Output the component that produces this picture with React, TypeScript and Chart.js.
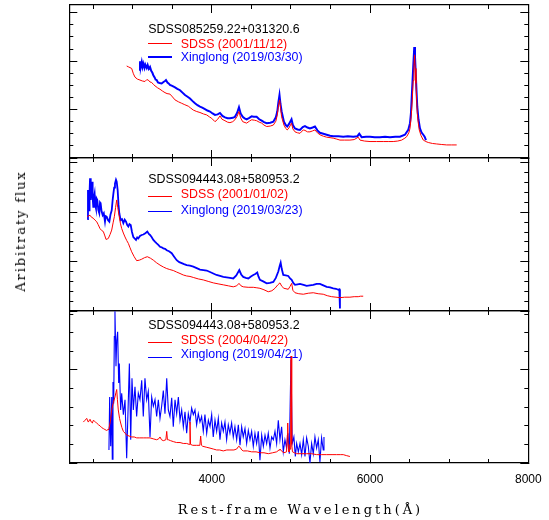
import React, { useEffect, useRef } from "react";
import { Chart, registerables } from "chart.js";

Chart.register(...registerables);

type Pt = [number, number];

// ---------------- data ----------------
const waveMin = 2200;
const waveMax = 8000;
const waveMajorTicks = [4000, 6000, 8000];
const waveMinorTicks = [2500, 3000, 3500, 4000, 4500, 5000, 5500, 6000, 6500, 7000, 7500, 8000];

const xTitle = "Rest-frame Wavelength(Å)";
const yTitle = "Aribitraty flux";

// Panel 1
const p1Name = "SDSS085259.22+031320.6";
const p1SdssLabel = "SDSS (2001/11/12)";
const p1XlLabel = "Xinglong (2019/03/30)";
const p1FluxMax = 3.16;
const p1FluxMinorStep = 0.25;
const p1Sdss: Pt[] = [
  [2925, 1.9], [2950, 1.88], [2988, 1.85], [3010, 1.74], [3030, 1.67], [3060, 1.63], [3093, 1.61], [3125, 1.59],
  [3156, 1.58], [3180, 1.62], [3198, 1.61], [3220, 1.57], [3241, 1.56], [3262, 1.52], [3283, 1.49], [3315, 1.45],
  [3346, 1.42], [3380, 1.38], [3409, 1.35], [3435, 1.33], [3472, 1.32], [3505, 1.26], [3536, 1.2], [3580, 1.16],
  [3620, 1.13], [3660, 1.1], [3704, 1.07], [3735, 1.03], [3767, 0.99], [3810, 0.96], [3851, 0.94], [3895, 0.91],
  [3936, 0.89], [3970, 0.85], [3999, 0.82], [4041, 0.75], [4075, 0.8], [4104, 0.87], [4130, 0.8], [4167, 0.77],
  [4200, 0.74], [4230, 0.73], [4265, 0.75], [4293, 0.79], [4320, 0.86], [4344, 0.96], [4365, 0.83], [4391, 0.75],
  [4441, 0.72], [4475, 0.76], [4504, 0.79], [4540, 0.78], [4567, 0.77], [4600, 0.74], [4631, 0.72], [4660, 0.68],
  [4694, 0.65], [4740, 0.66], [4778, 0.68], [4810, 0.76], [4828, 0.89], [4845, 1.1], [4858, 1.2], [4870, 1.02],
  [4883, 0.85], [4912, 0.68], [4935, 0.61], [4954, 0.58], [4975, 0.62], [4995, 0.68], [5008, 0.72], [5025, 0.6],
  [5052, 0.54], [5085, 0.52], [5115, 0.51], [5157, 0.58], [5178, 0.57], [5210, 0.54], [5241, 0.54], [5275, 0.56],
  [5304, 0.58], [5335, 0.52], [5367, 0.48], [5410, 0.45], [5452, 0.43], [5495, 0.42], [5535, 0.41], [5580, 0.39],
  [5620, 0.37], [5680, 0.37], [5746, 0.37], [5800, 0.38], [5851, 0.43], [5873, 0.37], [5930, 0.35], [6000, 0.34],
  [6080, 0.34], [6167, 0.34], [6230, 0.34], [6293, 0.34], [6350, 0.35], [6400, 0.37], [6440, 0.41], [6463, 0.44],
  [6490, 0.52], [6505, 0.61], [6520, 0.85], [6534, 1.2], [6545, 1.6], [6555, 1.89], [6563, 2.13], [6572, 1.85],
  [6580, 1.54], [6590, 1.18], [6597, 0.92], [6610, 0.72], [6622, 0.58], [6645, 0.46], [6673, 0.37], [6705, 0.34],
  [6736, 0.32], [6790, 0.3], [6842, 0.29], [6900, 0.28], [6968, 0.27], [7030, 0.27], [7095, 0.27],
];
const p1Xl: Pt[] = [
  [3093, 1.8], [3094, 2.0], [3105, 1.9], [3115, 1.98], [3125, 1.88], [3135, 1.95], [3150, 1.86], [3160, 1.93],
  [3178, 1.86], [3190, 1.92], [3205, 1.84], [3220, 1.88], [3235, 1.8], [3250, 1.76], [3262, 1.71], [3280, 1.66],
  [3290, 1.62], [3304, 1.61], [3320, 1.56], [3340, 1.55], [3367, 1.54], [3390, 1.57], [3410, 1.59], [3422, 1.61],
  [3440, 1.56], [3455, 1.54], [3472, 1.51], [3500, 1.49], [3536, 1.46], [3565, 1.43], [3599, 1.4], [3630, 1.35],
  [3662, 1.3], [3690, 1.27], [3725, 1.23], [3755, 1.18], [3788, 1.13], [3820, 1.09], [3851, 1.06], [3880, 1.04],
  [3914, 1.01], [3945, 0.98], [3978, 0.96], [4010, 0.92], [4041, 0.89], [4075, 0.9], [4104, 0.93], [4135, 0.87],
  [4167, 0.84], [4200, 0.82], [4230, 0.82], [4265, 0.83], [4293, 0.85], [4320, 0.93], [4344, 1.05], [4365, 0.92],
  [4391, 0.85], [4415, 0.82], [4441, 0.8], [4475, 0.83], [4504, 0.86], [4530, 0.85], [4567, 0.85], [4600, 0.8],
  [4631, 0.77], [4660, 0.74], [4694, 0.72], [4740, 0.73], [4778, 0.75], [4810, 0.84], [4828, 0.96], [4842, 1.15],
  [4856, 1.3], [4868, 1.12], [4883, 0.96], [4912, 0.75], [4935, 0.68], [4954, 0.65], [4975, 0.7], [4995, 0.76],
  [5008, 0.8], [5025, 0.68], [5052, 0.61], [5085, 0.59], [5115, 0.58], [5150, 0.64], [5178, 0.66], [5210, 0.63],
  [5241, 0.61], [5275, 0.63], [5304, 0.65], [5335, 0.57], [5367, 0.52], [5410, 0.5], [5452, 0.48], [5495, 0.46],
  [5535, 0.45], [5600, 0.45], [5662, 0.44], [5720, 0.45], [5788, 0.44], [5840, 0.45], [5864, 0.5], [5894, 0.43],
  [5950, 0.44], [6000, 0.44], [6060, 0.43], [6125, 0.43], [6190, 0.44], [6252, 0.43], [6320, 0.44], [6378, 0.44],
  [6441, 0.48], [6483, 0.58], [6505, 0.72], [6517, 0.92], [6530, 1.35], [6546, 1.89], [6559, 2.29], [6568, 2.1],
  [6576, 1.82], [6587, 1.4], [6597, 1.06], [6612, 0.8], [6631, 0.61], [6650, 0.53], [6673, 0.48], [6690, 0.44],
  [6707, 0.37],
];

// Panel 2
const p2Name = "SDSS094443.08+580953.2";
const p2SdssLabel = "SDSS (2001/01/02)";
const p2XlLabel = "Xinglong (2019/03/23)";
const p2FluxMax = 3.1;
const p2FluxMinorStep = 0.2;
const p2Sdss: Pt[] = [
  [2427, 1.91], [2445, 1.93], [2462, 1.94], [2480, 1.9], [2503, 1.88], [2525, 1.84], [2546, 1.81], [2565, 1.75],
  [2588, 1.67], [2610, 1.63], [2630, 1.61], [2650, 1.52], [2664, 1.45], [2680, 1.46], [2693, 1.47], [2715, 1.55],
  [2736, 1.64], [2755, 1.8], [2769, 1.91], [2785, 2.1], [2799, 2.25], [2812, 2.1], [2828, 1.94], [2845, 1.78],
  [2862, 1.67], [2883, 1.58], [2904, 1.5], [2925, 1.43], [2946, 1.37], [2968, 1.28], [2988, 1.2], [3020, 1.1],
  [3051, 1.02], [3085, 1.03], [3115, 1.05], [3150, 1.08], [3186, 1.1], [3225, 1.07], [3262, 1.03], [3300, 0.98],
  [3346, 0.93], [3390, 0.89], [3431, 0.86], [3470, 0.84], [3514, 0.82], [3555, 0.79], [3599, 0.76], [3640, 0.73],
  [3683, 0.71], [3725, 0.7], [3767, 0.68], [3830, 0.65], [3893, 0.63], [3955, 0.6], [4019, 0.57], [4080, 0.55],
  [4146, 0.53], [4210, 0.51], [4272, 0.49], [4315, 0.51], [4344, 0.56], [4370, 0.51], [4398, 0.49], [4460, 0.48],
  [4525, 0.48], [4570, 0.47], [4609, 0.46], [4660, 0.43], [4714, 0.39], [4760, 0.41], [4799, 0.46], [4835, 0.53],
  [4862, 0.57], [4885, 0.5], [4912, 0.46], [4967, 0.44], [4990, 0.5], [5010, 0.56], [5025, 0.42], [5052, 0.37],
  [5100, 0.35], [5157, 0.34], [5220, 0.36], [5283, 0.37], [5345, 0.35], [5409, 0.34], [5460, 0.31], [5515, 0.29],
  [5570, 0.28], [5620, 0.27], [5680, 0.28], [5746, 0.28], [5800, 0.29], [5851, 0.29], [5880, 0.3], [5914, 0.3],
];
const p2Xl: Pt[] = [
  [2427, 1.86], [2436, 2.45], [2443, 2.1], [2449, 2.04], [2456, 2.4], [2462, 2.69], [2468, 2.3], [2474, 2.25],
  [2480, 2.55], [2487, 2.62], [2495, 2.3], [2503, 2.11], [2511, 2.3], [2520, 2.38], [2528, 2.15], [2537, 2.08],
  [2545, 2.28], [2554, 2.25], [2566, 2.05], [2579, 1.98], [2588, 2.2], [2596, 2.18], [2608, 2.02], [2622, 1.94],
  [2636, 1.98], [2651, 1.81], [2660, 1.92], [2672, 1.91], [2690, 1.84], [2706, 1.81], [2720, 1.95], [2736, 2.04],
  [2748, 2.25], [2757, 2.38], [2767, 2.5], [2777, 2.58], [2790, 2.66], [2799, 2.62], [2811, 2.45], [2822, 2.15],
  [2832, 1.98], [2849, 1.84], [2866, 1.86], [2883, 1.78], [2900, 1.85], [2917, 1.81], [2932, 1.74], [2946, 1.71],
  [2960, 1.76], [2976, 1.74], [2992, 1.6], [3009, 1.5], [3025, 1.47], [3043, 1.44], [3058, 1.49], [3072, 1.47],
  [3093, 1.52], [3115, 1.54], [3135, 1.55], [3156, 1.57], [3172, 1.59], [3186, 1.61], [3205, 1.56], [3220, 1.54],
  [3240, 1.5], [3262, 1.44], [3285, 1.4], [3304, 1.37], [3325, 1.34], [3346, 1.3], [3367, 1.29], [3388, 1.27],
  [3410, 1.26], [3431, 1.23], [3460, 1.21], [3494, 1.17], [3525, 1.1], [3557, 1.03], [3590, 0.99], [3620, 0.97],
  [3650, 0.95], [3683, 0.93], [3725, 0.92], [3767, 0.9], [3810, 0.87], [3851, 0.84], [3895, 0.83], [3936, 0.82],
  [3978, 0.79], [4019, 0.76], [4060, 0.73], [4104, 0.71], [4146, 0.69], [4188, 0.68], [4230, 0.67], [4272, 0.66],
  [4310, 0.72], [4348, 0.83], [4372, 0.74], [4398, 0.69], [4430, 0.67], [4462, 0.66], [4495, 0.7], [4525, 0.73],
  [4550, 0.75], [4575, 0.78], [4590, 0.7], [4609, 0.63], [4650, 0.6], [4694, 0.56], [4735, 0.57], [4778, 0.59],
  [4810, 0.67], [4841, 0.8], [4860, 0.92], [4871, 0.98], [4885, 0.85], [4904, 0.73], [4935, 0.72], [4967, 0.71],
  [4990, 0.66], [5010, 0.63], [5030, 0.57], [5052, 0.53], [5085, 0.54], [5115, 0.55], [5160, 0.53], [5199, 0.51],
  [5240, 0.52], [5283, 0.53], [5325, 0.55], [5367, 0.55], [5410, 0.52], [5452, 0.49], [5495, 0.48], [5535, 0.46],
  [5570, 0.45], [5599, 0.43], [5612, 0.44], [5620, 0.05],
];

// Panel 3
const p3Name = "SDSS094443.08+580953.2";
const p3SdssLabel = "SDSS (2004/04/22)";
const p3XlLabel = "Xinglong (2019/04/21)";
const p3FluxMax = 1.634;
const p3FluxMinorStep = 0.2;
const p3Sdss: Pt[] = [
  [2377, 0.44], [2400, 0.46], [2420, 0.48], [2440, 0.44], [2462, 0.47], [2478, 0.44], [2491, 0.43], [2505, 0.46],
  [2516, 0.45], [2530, 0.44], [2546, 0.43], [2570, 0.41], [2588, 0.4], [2610, 0.38], [2630, 0.37], [2650, 0.36],
  [2672, 0.35], [2690, 0.36], [2701, 0.37], [2720, 0.45], [2736, 0.57], [2757, 0.65], [2777, 0.71], [2790, 0.76],
  [2799, 0.79], [2808, 0.68], [2819, 0.57], [2835, 0.48], [2849, 0.43], [2865, 0.38], [2883, 0.34], [2905, 0.32],
  [2925, 0.3], [2955, 0.29], [2988, 0.28], [3020, 0.28], [3051, 0.27], [3090, 0.27], [3135, 0.27], [3180, 0.27],
  [3220, 0.27], [3260, 0.26], [3304, 0.25], [3330, 0.26], [3346, 0.28], [3365, 0.25], [3388, 0.24], [3420, 0.25],
  [3431, 0.34], [3440, 0.25], [3451, 0.25], [3480, 0.24], [3514, 0.23], [3555, 0.22], [3599, 0.22], [3640, 0.21],
  [3683, 0.21], [3715, 0.2], [3725, 0.44], [3732, 0.2], [3760, 0.19], [3809, 0.19], [3850, 0.19], [3860, 0.29],
  [3870, 0.19], [3885, 0.18], [3930, 0.17], [3978, 0.16], [4020, 0.15], [4062, 0.14], [4100, 0.14], [4146, 0.13],
  [4190, 0.14], [4230, 0.14], [4280, 0.14], [4315, 0.15], [4340, 0.18], [4357, 0.17], [4380, 0.14], [4398, 0.13],
  [4450, 0.13], [4504, 0.12], [4560, 0.12], [4609, 0.11], [4660, 0.11], [4714, 0.1], [4770, 0.11], [4820, 0.12],
  [4850, 0.14], [4862, 0.15], [4880, 0.13], [4912, 0.11], [4945, 0.12], [4955, 0.3], [4960, 0.43], [4966, 0.2],
  [4975, 0.12], [4990, 0.15], [4997, 0.6], [5002, 1.15], [5008, 0.6], [5013, 0.2], [5020, 0.12], [5045, 0.11],
  [5073, 0.1], [5130, 0.1], [5199, 0.1], [5260, 0.1], [5325, 0.09], [5390, 0.09], [5452, 0.09], [5520, 0.09],
  [5578, 0.09], [5630, 0.09], [5662, 0.09], [5700, 0.08], [5746, 0.07],
];
const p3Xl: Pt[] = [
  [2701, 0.14], [2710, 0.71], [2723, 0.18], [2736, 0.71], [2743, 0.04], [2752, 0.87], [2761, 0.64], [2769, 1.36],
  [2777, 1.63], [2790, 1.04], [2799, 1.32], [2811, 1.41], [2824, 0.86], [2832, 1.07], [2849, 0.57], [2862, 0.75],
  [2883, 0.52], [2904, 0.68], [2925, 0.05], [2946, 0.68], [2959, 1.07], [2976, 0.25], [2992, 0.91], [3009, 0.57],
  [3030, 0.82], [3051, 0.5], [3072, 0.75], [3093, 0.68], [3115, 0.89], [3135, 0.5], [3156, 0.91], [3178, 0.68],
  [3198, 0.77], [3220, 0.28], [3241, 0.71], [3262, 0.61], [3283, 0.68], [3304, 0.5], [3325, 0.68], [3346, 0.48],
  [3367, 0.61], [3388, 0.78], [3409, 0.53], [3431, 0.91], [3451, 0.57], [3472, 0.5], [3494, 0.7], [3514, 0.39],
  [3536, 0.68], [3557, 0.53], [3578, 0.71], [3599, 0.46], [3620, 0.57], [3641, 0.39], [3662, 0.55], [3683, 0.32],
  [3704, 0.53], [3725, 0.44], [3746, 0.59], [3767, 0.52], [3788, 0.57], [3809, 0.41], [3830, 0.53], [3851, 0.44],
  [3872, 0.5], [3893, 0.34], [3914, 0.52], [3936, 0.32], [3957, 0.46], [3978, 0.39], [3999, 0.52], [4019, 0.28],
  [4041, 0.46], [4062, 0.34], [4083, 0.48], [4104, 0.25], [4125, 0.43], [4146, 0.34], [4167, 0.44], [4188, 0.25],
  [4209, 0.41], [4230, 0.32], [4251, 0.43], [4272, 0.28], [4293, 0.39], [4315, 0.25], [4336, 0.41], [4357, 0.19],
  [4378, 0.39], [4398, 0.28], [4420, 0.37], [4441, 0.21], [4462, 0.35], [4483, 0.25], [4504, 0.34], [4525, 0.18],
  [4546, 0.32], [4567, 0.21], [4588, 0.34], [4609, 0.03], [4631, 0.3], [4652, 0.18], [4673, 0.3], [4694, 0.21],
  [4714, 0.32], [4736, 0.16], [4757, 0.28], [4778, 0.25], [4799, 0.34], [4820, 0.21], [4841, 0.46], [4862, 0.25],
  [4883, 0.39], [4904, 0.12], [4925, 0.25], [4946, 0.16], [4962, 0.32], [4980, 0.1], [5001, 1.11], [5017, 0.21],
  [5038, 0.28], [5056, 0.07], [5073, 0.21], [5094, 0.12], [5115, 0.21], [5136, 0.09], [5157, 0.25], [5178, 0.07],
  [5199, 0.27], [5220, 0.18], [5241, 0.0], [5262, 0.21], [5283, 0.1], [5304, 0.28], [5325, 0.16], [5346, 0.25],
  [5367, 0.01], [5388, 0.27], [5409, 0.14], [5418, 0.28],
];

// ---------------- layout ----------------
const W = 549;
const H = 520;
const PLOT_LEFT = 69.3;
const PLOT_RIGHT = 528.3;
const LABEL_AXIS_H = 30;
const SDSS_COLOR = "#ff0000";
const XL_COLOR = "#0000ff";
const SANS = "'Liberation Sans', Arial, Helvetica, sans-serif";
const TITLE_FONT = "'DejaVu Serif', 'Liberation Serif', serif";

interface PanelSpec {
  top: number;
  bottom: number;
  fluxMax: number;
  fluxMinor: number;
  sdss: Pt[];
  xl: Pt[];
  xlWidth: number;
  showLabels: boolean;
  name: string;
  sdssLabel: string;
  xlLabel: string;
  nameY: number;
  sdssY: number;
  sdssLineY: number;
  xlY: number;
  xlLineY: number;
}

const panels: PanelSpec[] = [
  {
    top: 5, bottom: 158, fluxMax: p1FluxMax, fluxMinor: p1FluxMinorStep, sdss: p1Sdss, xl: p1Xl, xlWidth: 2.0,
    showLabels: false, name: p1Name, sdssLabel: p1SdssLabel, xlLabel: p1XlLabel,
    nameY: 29, sdssY: 43.5, sdssLineY: 43.5, xlY: 57, xlLineY: 57,
  },
  {
    top: 158, bottom: 311, fluxMax: p2FluxMax, fluxMinor: p2FluxMinorStep, sdss: p2Sdss, xl: p2Xl, xlWidth: 1.8,
    showLabels: false, name: p2Name, sdssLabel: p2SdssLabel, xlLabel: p2XlLabel,
    nameY: 178.8, sdssY: 193.8, sdssLineY: 196.5, xlY: 209.5, xlLineY: 211.7,
  },
  {
    top: 311, bottom: 463, fluxMax: p3FluxMax, fluxMinor: p3FluxMinorStep, sdss: p3Sdss, xl: p3Xl, xlWidth: 1.1,
    showLabels: true, name: p3Name, sdssLabel: p3SdssLabel, xlLabel: p3XlLabel,
    nameY: 325.3, sdssY: 340, sdssLineY: 342.3, xlY: 354.3, xlLineY: 357.5,
  },
];

function axisOpts(
  axis: "x" | "y",
  position: string,
  min: number,
  max: number,
  step: number,
  tickValues: number[] | null,
  tickLen: number,
  border: boolean,
  labels: boolean
): any {
  return {
    type: "linear",
    axis,
    position,
    min,
    max,
    weight: labels ? 1 : 0,
    afterBuildTicks: (s: any) => {
      if (tickValues) s.ticks = tickValues.map((v) => ({ value: v }));
    },
    afterFit: (s: any) => {
      s.paddingLeft = 0;
      s.paddingRight = 0;
      s.paddingTop = 0;
      s.paddingBottom = 0;
      if (s.isHorizontal()) s.height = labels ? LABEL_AXIS_H : 0;
      else s.width = 0;
    },
    border: { display: border, color: "#000", width: 1.2 },
    grid: {
      display: true,
      drawOnChartArea: false,
      drawTicks: true,
      tickLength: tickLen,
      tickColor: "#000",
      tickWidth: 1,
      color: "#000",
    },
    ticks: {
      display: labels,
      stepSize: step,
      includeBounds: false,
      autoSkip: false,
      maxTicksLimit: 1000,
      maxRotation: 0,
      minRotation: 0,
      padding: 17.8,
      color: "#000",
      font: { family: SANS, size: 12 },
      callback: (v: any) => String(v),
    },
  };
}

function PanelChart({ spec }: { spec: PanelSpec }) {
  const ref = useRef<HTMLCanvasElement>(null);
  useEffect(() => {
    if (!ref.current) return;
    const chart = new Chart(ref.current, {
      type: "line",
      data: {
        datasets: [
          {
            label: spec.sdssLabel,
            data: spec.sdss.map(([x, y]) => ({ x, y })),
            borderColor: SDSS_COLOR,
            backgroundColor: SDSS_COLOR,
            borderWidth: 1,
            pointRadius: 0,
            tension: 0,
            fill: false,
            order: 0,
            xAxisID: "x",
            yAxisID: "y",
          },
          {
            label: spec.xlLabel,
            data: spec.xl.map(([x, y]) => ({ x, y })),
            borderColor: XL_COLOR,
            backgroundColor: XL_COLOR,
            borderWidth: spec.xlWidth,
            pointRadius: 0,
            tension: 0,
            fill: false,
            order: 1,
            xAxisID: "x",
            yAxisID: "y",
          },
        ],
      } as any,
      options: {
        responsive: false,
        animation: false,
        events: [],
        layout: {
          padding: {
            left: PLOT_LEFT,
            right: W - PLOT_RIGHT,
            top: spec.top,
            bottom: H - spec.bottom - (spec.showLabels ? LABEL_AXIS_H : 0),
          },
        },
        plugins: { legend: { display: false }, tooltip: { enabled: false }, title: { display: false } },
        scales: {
          x: axisOpts("x", "bottom", waveMin, waveMax, 2000, waveMajorTicks, -8, true, spec.showLabels),
          xMinor: axisOpts("x", "bottom", waveMin, waveMax, 500, waveMinorTicks, -4, false, false),
          xTop: axisOpts("x", "top", waveMin, waveMax, 2000, waveMajorTicks, -8, true, false),
          xTopMinor: axisOpts("x", "top", waveMin, waveMax, 500, waveMinorTicks, -4, false, false),
          y: axisOpts("y", "left", 0, spec.fluxMax, 1, null, -8, true, false),
          yMinor: axisOpts("y", "left", 0, spec.fluxMax, spec.fluxMinor, null, -4, false, false),
          yRight: axisOpts("y", "right", 0, spec.fluxMax, 1, null, -8, true, false),
          yRightMinor: axisOpts("y", "right", 0, spec.fluxMax, spec.fluxMinor, null, -4, false, false),
        },
      } as any,
    });
    return () => chart.destroy();
  }, [spec]);
  return (
    <canvas
      ref={ref}
      width={W}
      height={H}
      style={{ position: "absolute", left: 0, top: 0, width: W, height: H }}
    />
  );
}

const LEG_X = 148.3;
const LEG_LINE_W = 23.5;
const LEG_TEXT_X = 180.7;
const LEG_FS = 12.4;

function textStyle(x: number, cy: number, color: string): React.CSSProperties {
  return {
    position: "absolute",
    left: x,
    top: cy - 7,
    height: 14,
    lineHeight: "14px",
    fontSize: LEG_FS,
    fontFamily: SANS,
    color,
    whiteSpace: "nowrap",
  };
}

function lineStyle(cy: number, color: string, w: number): React.CSSProperties {
  return {
    position: "absolute",
    left: LEG_X,
    top: cy - w / 2,
    width: LEG_LINE_W,
    height: w,
    background: color,
  };
}

export default function App() {
  return (
    <div
      style={{
        position: "absolute",
        left: 0,
        top: 0,
        width: W,
        height: H,
        background: "#fff",
        overflow: "hidden",
      }}
    >
      {panels.map((p, i) => (
        <PanelChart key={i} spec={p} />
      ))}
      {panels.map((p, i) => (
        <React.Fragment key={"leg" + i}>
          <div style={textStyle(LEG_X, p.nameY, "#000")}>{p.name}</div>
          <div style={lineStyle(p.sdssLineY, SDSS_COLOR, 1.2)} />
          <div style={textStyle(LEG_TEXT_X, p.sdssY, SDSS_COLOR)}>{p.sdssLabel}</div>
          <div style={lineStyle(p.xlLineY, XL_COLOR, i === 0 ? 2 : 1.3)} />
          <div style={textStyle(LEG_TEXT_X, p.xlY, XL_COLOR)}>{p.xlLabel}</div>
        </React.Fragment>
      ))}
      <div
        style={{
          position: "absolute",
          left: 300.5,
          top: 509.5,
          transform: "translate(-50%, -50%)",
          fontFamily: TITLE_FONT,
          fontSize: 13,
          letterSpacing: "3px",
          whiteSpace: "nowrap",
          color: "#000",
          lineHeight: "16px",
        }}
      >
        {xTitle}
      </div>
      <div
        style={{
          position: "absolute",
          left: 20.5,
          top: 231,
          transform: "translate(-50%, -50%) rotate(-90deg)",
          fontFamily: TITLE_FONT,
          fontSize: 13,
          letterSpacing: "1.9px",
          whiteSpace: "nowrap",
          color: "#000",
          lineHeight: "16px",
        }}
      >
        {yTitle}
      </div>
    </div>
  );
}
